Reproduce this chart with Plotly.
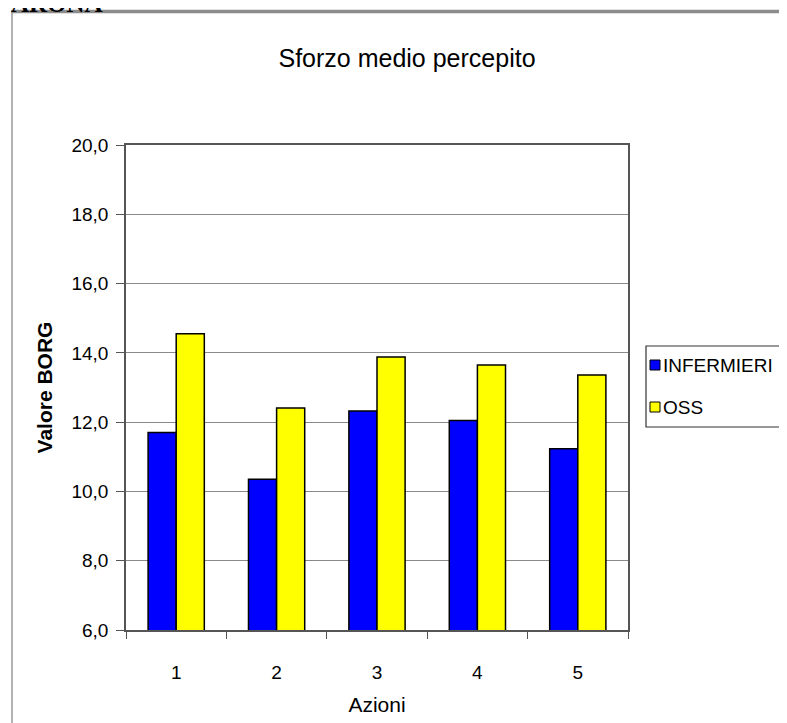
import plotly.graph_objects as go

categories = ["1", "2", "3", "4", "5"]
infermieri = [11.7, 10.35, 12.32, 12.05, 11.23]
oss = [14.55, 12.41, 13.88, 13.65, 13.36]
series_names = ["INFERMIERI", "OSS"]
series_colors = ["#0000FF", "#FFFF00"]
y_ticks = [6, 8, 10, 12, 14, 16, 18, 20]

OFF = 8  # page body margin
W, H = 787 - OFF, 723 - OFF
# plot area in page pixels (reference)
PL, PR, PT, PB = 126, 628, 145, 630
L, R, T, B = PL - OFF, PR - OFF, PT - OFF, PB - OFF
pw, ph = R - L, B - T

def fx(xp):
    return (xp - OFF - L) / pw

def fy(yp):
    return (B - (yp - OFF)) / ph

font = "Liberation Sans, Arial, sans-serif"

fig = go.Figure()
for name, vals, col in zip(series_names, [infermieri, oss], series_colors):
    fig.add_trace(go.Bar(x=categories, y=vals, name=name,
                         marker=dict(color=col, line=dict(color="#000000", width=1.5)),
                         showlegend=False))

fig.update_layout(
    width=W, height=H,
    margin=dict(l=L, r=W - R, t=T, b=H - B, autoexpand=False),
    paper_bgcolor="white", plot_bgcolor="white",
    barmode="group", bargap=0.44, bargroupgap=0,
    separators=",.",
    font=dict(family=font, color="#000000"),
    title=dict(text="Sforzo medio percepito", x=fx(407), xref="paper", xanchor="center",
               y=1 - (58 - OFF) / H, yref="container", yanchor="middle",
               font=dict(size=25, family=font, color="#000")),
    xaxis=dict(type="category", showline=True, linecolor="#555", linewidth=1.5,
               ticks="outside", tickson="boundaries", ticklen=7, tickcolor="#555",
               tickfont=dict(size=19), mirror=True, ticklabelstandoff=24,
               title=dict(text="Azioni", font=dict(size=21), standoff=16)),
    yaxis=dict(range=[6, 20], tickvals=y_ticks, tickformat=".1f",
               showline=True, linecolor="#555", linewidth=1.5, mirror=True,
               ticks="outside", ticklen=8, tickcolor="#555",
               showgrid=True, gridcolor="#8a8a8a", gridwidth=1.2,
               tickfont=dict(size=19), ticklabelstandoff=4,
               title=dict(text="<b>Valore BORG</b>", font=dict(size=21), standoff=13)),
    showlegend=False,
)

# manual legend box (Excel style)
fig.add_shape(type="rect", xref="paper", yref="paper",
              x0=fx(646), x1=fx(800), y0=fy(427), y1=fy(346),
              line=dict(color="#333", width=1.2), fillcolor="white")
legend_rows = [365, 407]
for name, col, yy in zip(series_names, series_colors, legend_rows):
    fig.add_shape(type="rect", xref="paper", yref="paper",
                  x0=fx(650), x1=fx(660), y0=fy(yy + 5), y1=fy(yy - 5),
                  line=dict(color="#000", width=1), fillcolor=col)
    fig.add_annotation(text=name, xref="paper", yref="paper", x=fx(661), y=fy(yy),
                       xanchor="left", yanchor="middle", showarrow=False,
                       font=dict(size=19, family=font, color="#000"))

# outer frame
fig.add_shape(type="line", xref="paper", yref="paper",
              x0=fx(11), x1=fx(800), y0=fy(11.5), y1=fy(11.5),
              line=dict(color="#8c8c8c", width=3.5))
fig.add_shape(type="line", xref="paper", yref="paper",
              x0=fx(12), x1=fx(12), y0=fy(11), y1=fy(740),
              line=dict(color="#999", width=1.5))

# cut-off heading above frame
fig.add_annotation(text="<b>ARONA</b>", xref="paper", yref="paper",
                   x=fx(9), y=fy(19), xanchor="left", yanchor="bottom",
                   showarrow=False, font=dict(family="Liberation Serif, serif", size=25, color="#000"))

fig.write_html("out.html")
